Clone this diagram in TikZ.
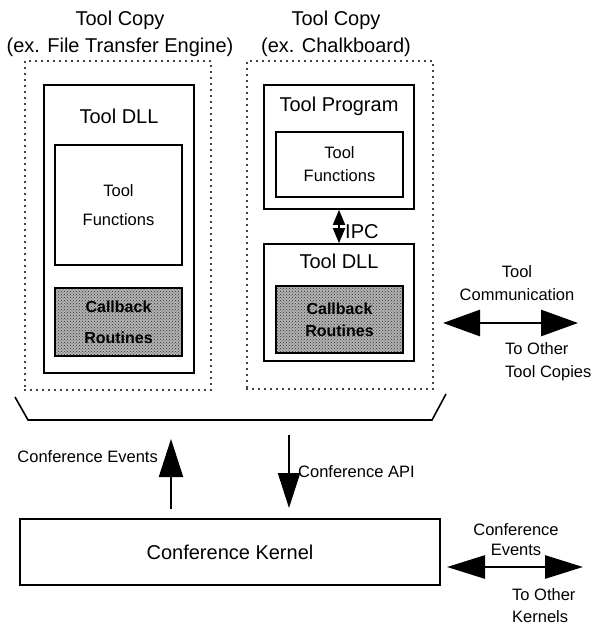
\documentclass[tikz,border=0pt]{standalone}
\usepackage{fontspec}
\setmainfont{Liberation Sans}
\usetikzlibrary{arrows.meta,positioning,patterns}

\begin{document}
\begin{tikzpicture}[x=1pt, y=-1pt,
    bigtxt/.style={font=\fontsize{20}{27}\selectfont, align=center, inner sep=0pt},
    smalltxt/.style={font=\fontsize{16.5}{23}\selectfont, align=center, inner sep=0pt},
    copybox/.style={draw, line width=2.2pt, dash pattern=on 0pt off 6pt, line cap=round, inner sep=0pt},
    toolbox/.style={draw, line width=1.6pt, fill=white, inner sep=0pt},
    cbbox/.style={draw, line width=1.6pt, inner sep=0pt, preaction={fill=black!30}, pattern=crosshatch dots, pattern color=black!80, font=\bfseries\fontsize{16}{22}\selectfont, align=center},
    bigarrow/.style={{Triangle[length=37pt,width=26pt]}-{Triangle[length=37pt,width=26pt]}, line width=2.8pt},
    kernarrow/.style={{Triangle[length=38pt,width=23pt]}-{Triangle[length=38pt,width=23pt]}, line width=2.8pt},
    uparrow/.style={-{Triangle[length=38pt,width=24pt]}, line width=2.2pt},
    downarrow/.style={-{Triangle[length=35pt,width=22pt]}, line width=2.2pt},
    ipcarrow/.style={{Triangle[length=15pt,width=12pt]}-{Triangle[length=15pt,width=12pt]}, line width=1.8pt}
]
\fill[white] (0,0) rectangle (597,626);
\useasboundingbox (0,0) rectangle (597,626);

% Tool copies
\node[copybox, minimum width=186pt, minimum height=329pt] (copyL) at (118,225.5) {};
\node[copybox, minimum width=186pt, minimum height=328pt] (copyR) at (340,225) {};
\node[bigtxt] (titleL) at (120,33.5) {Tool Copy\\(ex. File Transfer Engine)};
\node[bigtxt] (titleR) at (336,33.5) {Tool Copy\\(ex. Chalkboard)};

% Left copy: DLL only
\node[toolbox, minimum width=150pt, minimum height=288pt] (dllL) at (119,229) {};
\node[bigtxt] (dllLtxt) at ([yshift=-32pt]dllL.north) {Tool DLL};
\node[toolbox, smalltxt, minimum width=127pt, minimum height=120pt] (funcL) at (118.5,205) {Tool\\[6pt]Functions};
\node[cbbox, minimum width=127pt, minimum height=68pt] (cbL) at (118.5,322) {Callback\\[9pt]Routines};

% Right copy: program and DLL
\node[toolbox, minimum width=150pt, minimum height=124pt] (prog) at (339,147) {};
\node[bigtxt] (progtxt) at ([yshift=-22pt]prog.north) {Tool Program};
\node[toolbox, smalltxt, minimum width=127pt, minimum height=65pt] (funcR) at (339.5,164.5) {Tool\\Functions};
\node[toolbox, minimum width=150pt, minimum height=117pt] (dllR) at (339,302.5) {};
\node[bigtxt] (dllRtxt) at ([yshift=-18pt]dllR.north) {Tool DLL};
\node[cbbox, minimum width=127pt, minimum height=67pt] (cbR) at (339.5,319.5) {Callback\\Routines};

\draw[ipcarrow] (prog.south) -- (dllR.north);
\node[bigtxt, anchor=west] (ipc) at (345,232) {IPC};

% Tool communication
\coordinate (commL) at (443,323);
\coordinate (commR) at (578,323);
\draw[bigarrow] (commL) -- (commR);
\node[smalltxt] (commtxt) at (517,283.5) {Tool\\Communication};
\node[smalltxt, align=left, anchor=west] (othertools) at (505,361.5) {To Other\\Tool Copies};

% Tray under the copies
\coordinate (trayA) at (15,397);
\coordinate (trayB) at (28,420);
\coordinate (trayC) at (432,420);
\coordinate (trayD) at (446,394);
\draw[line width=1.6pt] (trayA) -- (trayB) -- (trayC) -- (trayD);

% Conference kernel
\node[toolbox, bigtxt, minimum width=420pt, minimum height=66pt] (kernel) at (230,552) {Conference Kernel};

\coordinate (evtTip) at (171,439);
\draw[uparrow] (171,509) coordinate (evtBot) -- (evtTip);
\node[smalltxt, anchor=east] (evttxt) at (158,457) {Conference Events};

\coordinate (apiTop) at (289,435);
\coordinate (apiTip) at (289,508);
\draw[downarrow] (apiTop) -- (apiTip);
\node[smalltxt, anchor=west] (apitxt) at (298,472) {Conference API};

\coordinate (knlL) at (447,567);
\coordinate (knlR) at (583,567);
\draw[kernarrow] (knlL) -- (knlR);
\node[smalltxt, font=\fontsize{16.5}{20}\selectfont] (knlevt) at (516,540) {Conference\\Events};
\node[smalltxt, align=left, anchor=west, font=\fontsize{16.5}{22}\selectfont] (otherknl) at (512,606) {To Other\\Kernels};

\end{tikzpicture}
\end{document}
